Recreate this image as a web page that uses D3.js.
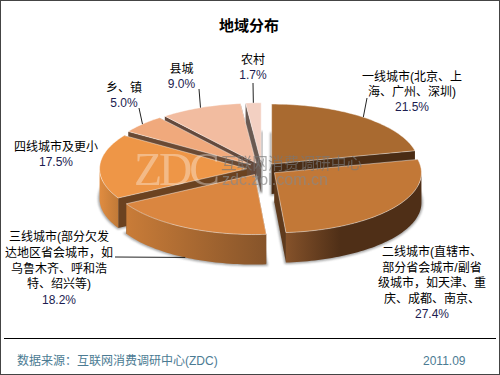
<!DOCTYPE html>
<html>
<head>
<meta charset="utf-8">
<script src="https://cdn.jsdelivr.net/npm/d3@7/dist/d3.min.js"></script>
<style>
html, body { margin: 0; padding: 0; background: #fff; }
svg { display: block; }
text { font-family: "Liberation Sans", "Noto Sans CJK SC", sans-serif; }
</style>
</head>
<body>
<div id="chart"></div>
<script>
// chart values
const categories = ['一线城市', '二线城市', '三线城市', '四线城市', '乡、镇', '县城', '农村'];
const shares = [21.5, 27.4, 18.2, 17.5, 5.0, 9.0, 1.7];
const labelLines = [
  ['一线城市(北京、上', '海、广州、深圳)'],
  ['二线城市(直辖市、', '部分省会城市/副省', '级城市，如天津、重', '庆、成都、南京、'],
  ['三线城市(部分欠发', '达地区省会城市，如', '乌鲁木齐、呼和浩', '特、绍兴等)'],
  ['四线城市及更小'],
  ['乡、镇'],
  ['县城'],
  ['农村']
];
const title = '地域分布';
const source = '数据来源：互联网消费调研中心(ZDC)';
const period = '2011.09';

// colours
const topColors = ['#a96a30', '#c27837', '#da8640', '#ee9647', '#f0a97c', '#f2bca0', '#f3d0c2'];
const innerColors = ['#4a2c14', '#5f3a1c', '#6a4220', '#6b4220', '#6a4a34', '#64493c', '#6a5a52'];
const wallLeft = ['#7a4c22', '#85522a', '#c97c38', '#e08c40', '#b57a50', '#b08a70', '#b09a90'];
const wallRight = ['#4a2c14', '#4f2f17', '#86542a', '#c07a38', '#a06a40', '#a08070', '#a09088'];

const width = 500, height = 375;
const cx = 262, cy = 169, rx = 147, ry = 60, depth = 30;
const explode = 0.105;

const svg = d3.select('#chart').append('svg')
  .attr('width', width)
  .attr('height', height);

// the ground plane of the pie is a unit circle, scales flatten it to an ellipse
const x = d3.scaleLinear().domain([-1, 1]).range([cx - rx, cx + rx]);
const y = d3.scaleLinear().domain([-1, 1]).range([cy + ry, cy - ry]);

const arcs = d3.pie().sort(null).startAngle(0).endAngle(2 * Math.PI)(shares);

function point(d, angle, r, drop) {
  const mid = (d.startAngle + d.endAngle) / 2;
  const u = explode * Math.sin(mid) + r * Math.sin(angle);
  const v = explode * Math.cos(mid) + r * Math.cos(angle);
  return [x(u), y(v) + (drop || 0)];
}

function rim(d, a0, a1, drop) {
  const n = Math.max(2, Math.ceil((a1 - a0) * 40));
  return d3.range(n + 1).map(i => point(d, a0 + (a1 - a0) * i / n, 1, drop));
}

const closed = d3.line().curve(d3.curveLinearClosed);
const open = d3.line();

function face(d, drop) {
  return closed([point(d, 0, 0, drop)].concat(rim(d, d.startAngle, d.endAngle, drop)));
}

const defs = svg.append('defs');
defs.append('filter').attr('id', 'soft')
  .attr('x', '-10%').attr('y', '-10%').attr('width', '120%').attr('height', '120%')
  .append('feGaussianBlur').attr('stdDeviation', 1.2);

svg.append('rect')
  .attr('x', 0.5).attr('y', 0.5)
  .attr('width', width - 1).attr('height', height - 1)
  .attr('fill', '#fff')
  .attr('stroke', '#444');

// soft shadow under each slice
svg.append('g').selectAll('path')
  .data(arcs)
  .join('path')
  .attr('d', d => face(d, depth))
  .attr('fill', '#777')
  .attr('stroke', '#777')
  .attr('stroke-width', 3)
  .attr('opacity', 0.65)
  .attr('filter', 'url(#soft)');

// back slices first
const order = [6, 5, 4, 0, 3, 2, 1];
const slices = svg.append('g').selectAll('g')
  .data(order.map(i => arcs[i]))
  .join('g');

slices.each(function(d) {
  const g = d3.select(this);
  const i = d.index;

  [d.startAngle, d.endAngle].forEach(a => {
    const apex = point(d, 0, 0), edge = point(d, a, 1);
    g.append('path')
      .attr('d', closed([apex, edge, [edge[0], edge[1] + depth], [apex[0], apex[1] + depth]]))
      .attr('fill', innerColors[i]);
  });

  const a0 = Math.max(d.startAngle, Math.PI / 2);
  const a1 = Math.min(d.endAngle, 3 * Math.PI / 2);
  if (a1 > a0) {
    const rimTop = rim(d, a0, a1, 0);
    const xs = d3.extent(rimTop, p => p[0]);
    const gid = 'wall' + i;
    // lit from the left, the big slice reaches its dark tone early
    const grad = defs.append('linearGradient').attr('id', gid)
      .attr('gradientUnits', 'userSpaceOnUse')
      .attr('x1', xs[0]).attr('x2', xs[1]).attr('y1', 0).attr('y2', 0);
    grad.append('stop').attr('offset', 0).attr('stop-color', wallLeft[i]);
    grad.append('stop').attr('offset', i === 1 ? 0.4 : 1).attr('stop-color', wallRight[i]);
    g.append('path')
      .attr('d', closed(rimTop.concat(rim(d, a0, a1, depth).reverse())))
      .attr('fill', `url(#${gid})`);
  }

  g.append('path')
    .attr('d', face(d, 0))
    .attr('fill', topColors[i])
    .attr('stroke', '#fff')
    .attr('stroke-opacity', 0.55)
    .attr('stroke-width', 0.8);
});

// watermark
svg.append('text')
  .attr('x', 134).attr('y', 185)
  .attr('font-size', 46)
  .attr('letter-spacing', -3)
  .style('font-family', '"Liberation Serif", serif')
  .attr('fill', '#fff')
  .attr('opacity', 0.35)
  .text('ZDC');
svg.append('text')
  .attr('x', 221).attr('y', 169)
  .attr('font-size', 15.7)
  .attr('fill', '#777')
  .attr('opacity', 0.65)
  .text('互联网消费调研中心');
svg.append('text')
  .attr('x', 222).attr('y', 185)
  .attr('font-size', 16)
  .attr('fill', '#888')
  .attr('opacity', 0.7)
  .text('zdc.zol.com.cn');

svg.append('text')
  .attr('x', 249).attr('y', 31)
  .attr('text-anchor', 'middle')
  .attr('font-size', 15)
  .attr('font-weight', 'bold')
  .attr('fill', '#000')
  .text(title);

// label block centre and first line, one per category
const labelX = [412, 432, 59, 56, 124, 181.5, 253];
const labelY = [81, 256, 241, 151, 92, 73, 64];
const lineGap = [15, 15.5, 15.8, 15, 15, 14.5, 15];
const leaderFrom = [[367, 98], null, [115, 257], null, [139, 108], [199, 89], [253, 83]];

const labels = svg.append('g').selectAll('g')
  .data(arcs)
  .join('g');

labels.each(function(d) {
  const i = d.index;
  const g = d3.select(this);
  labelLines[i].forEach((t, k) => {
    g.append('text')
      .attr('x', labelX[i])
      .attr('y', labelY[i] + k * lineGap[i])
      .attr('text-anchor', 'middle')
      .attr('font-size', 12)
      .attr('fill', '#000')
      .text(t);
  });
  g.append('text')
    .attr('x', labelX[i])
    .attr('y', labelY[i] + labelLines[i].length * lineGap[i])
    .attr('text-anchor', 'middle')
    .attr('font-size', 12)
    .attr('fill', '#1c1c50')
    .text(d3.format('.1f')(shares[i]) + '%');

  if (leaderFrom[i]) {
    const mid = (d.startAngle + d.endAngle) / 2;
    const front = Math.cos(mid) < -0.5;
    g.append('path')
      .attr('d', open([leaderFrom[i], point(d, mid, 1, front ? depth : 0)]))
      .attr('fill', 'none')
      .attr('stroke', '#222')
      .attr('stroke-width', 1);
  }
});

// footer
svg.append('line')
  .attr('x1', 4).attr('x2', 496)
  .attr('y1', 338.5).attr('y2', 338.5)
  .attr('stroke', '#000');
svg.append('text')
  .attr('x', 17).attr('y', 365)
  .attr('font-size', 12)
  .attr('fill', '#4b7b93')
  .text(source);
svg.append('text')
  .attr('x', 423).attr('y', 365)
  .attr('font-size', 12)
  .attr('fill', '#4b7b93')
  .text(period);
</script>
</body>
</html>
